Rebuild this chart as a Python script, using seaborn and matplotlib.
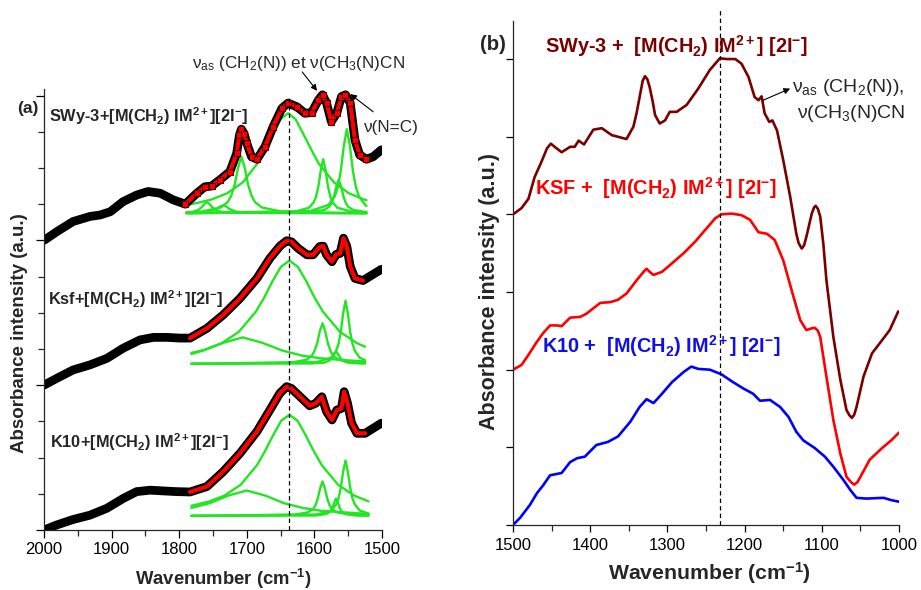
import numpy as np
import pandas as pd
import matplotlib
matplotlib.use("Agg")
import matplotlib.pyplot as plt
import seaborn as sns
from matplotlib.ticker import MultipleLocator

# ---------------- Panel (a) : 2000-1500 cm-1, experimental spectra ----------------
A_SWY_W = [2000,1981,1957,1932,1917,1902,1883,1863,1846,1828,1809,1791,1774,1762,1752,1740,1725,1715,1711,1708,1704,1700,
           1693,1685,1673,1661,1648,1639,1626,1614,1604,1594,1588,1582,1575,1567,1560,1554,1547,1540,1533,1523,1513,1501]
A_SWY_V = [8.00,8.24,8.52,8.66,8.70,8.79,9.07,9.25,9.35,9.30,9.12,9.00,9.30,9.48,9.50,9.67,9.90,10.40,10.90,11.07,10.95,10.68,
           10.31,10.24,10.59,11.14,11.65,11.79,11.69,11.51,11.53,11.88,12.02,11.79,11.28,11.51,11.97,12.02,11.79,10.77,10.36,10.24,10.31,10.50]
A_KSF_W = [2000,1981,1957,1932,1907,1883,1858,1838,1818,1799,1784,1759,1735,1710,1685,1666,1651,1641,1634,1624,
           1611,1602,1592,1587,1582,1574,1568,1562,1557,1552,1547,1540,1528,1515,1501]
A_KSF_V = [4.00,4.19,4.42,4.56,4.74,5.02,5.25,5.32,5.32,5.30,5.30,5.57,5.94,6.40,6.95,7.50,7.84,7.99,7.96,7.78,
           7.60,7.60,7.83,7.84,7.60,7.41,7.61,7.64,8.06,7.83,7.28,6.95,6.89,7.04,7.20]
A_K10_W = [2000,1981,1957,1932,1907,1883,1863,1843,1824,1804,1784,1759,1735,1710,1685,1666,1651,1641,1634,1621,
           1607,1598,1589,1582,1574,1567,1560,1556,1551,1545,1537,1525,1513,1501]
A_K10_V = [0.00,0.14,0.29,0.41,0.60,0.87,1.06,1.10,1.08,1.06,1.05,1.20,1.61,2.12,2.72,3.31,3.78,3.96,3.91,3.68,
           3.43,3.50,3.68,3.27,3.04,3.31,3.36,3.82,3.50,2.95,2.67,2.67,2.81,2.95]
FIT_RANGE = {"SWy": (1523, 1791), "Ksf": (1525, 1784), "K10": (1520, 1784)}

# ---------------- Panel (a) : fitted components (green) ----------------
SWY_C1_W = [1789,1783,1775,1771,1767,1763,1759,1755,1751,1747,1743,1735,1711,1523]
SWY_C1_V = [8.77,8.78,8.81,8.85,8.91,9.00,9.06,9.00,8.91,8.85,8.81,8.78,8.76,8.75]
SWY_C2_W = [1789,1765,1755,1750,1745,1740,1735,1730,1725,1720,1715,1705,1675,1523]
SWY_C2_V = [8.76,8.77,8.79,8.82,8.86,8.93,8.97,8.93,8.86,8.82,8.79,8.77,8.76,8.75]
SWY_C3_W = [1789,1768,1738,1728,1723,1718,1713,1708,1703,1698,1693,1688,1678,1648,1608,1523]
SWY_C3_V = [8.77,8.79,8.91,9.06,9.23,9.53,10.00,10.31,10.00,9.53,9.23,9.06,8.91,8.79,8.77,8.75]
SWY_C4_W = [1789,1774,1752,1729,1706,1684,1673,1661,1650,1639,1628,1617,1605,1594,1571,1549,1527,1523]
SWY_C4_V = [8.98,9.03,9.13,9.30,9.60,10.13,10.52,10.96,11.35,11.51,11.35,10.96,10.52,10.13,9.60,9.30,9.13,9.11]
SWY_C5_W = [1789,1629,1608,1601,1597.5,1594,1590.5,1587,1583.5,1580,1576.5,1573,1566,1545,1523]
SWY_C5_V = [8.75,8.79,8.90,9.05,9.21,9.50,9.94,10.24,9.94,9.50,9.21,9.05,8.90,8.79,8.77]
SWY_C6_W = [1789,1606,1585,1578,1574.5,1571,1567.5,1564,1560.5,1557,1553.5,1550,1543,1523]
SWY_C6_V = [8.75,8.78,8.84,8.93,9.03,9.21,9.49,9.67,9.49,9.21,9.03,8.93,8.84,8.78]
SWY_C7_W = [1789,1606,1579,1570,1565.5,1561,1556.5,1552,1547.5,1543,1538.5,1534,1525,1523]
SWY_C7_V = [8.75,8.81,8.98,9.21,9.46,9.91,10.61,11.07,10.61,9.91,9.46,9.21,8.98,8.95]

KSF_C1_W = [1782,1762,1737,1712,1687,1674.5,1662,1649.5,1637,1624.5,1612,1599.5,1587,1562,1537,1525]
KSF_C1_V = [4.89,4.98,5.16,5.47,6.02,6.41,6.87,7.27,7.44,7.27,6.87,6.41,6.02,5.47,5.16,5.06]
KSF_C2_W = [1782,1764,1735,1706,1677,1648,1619,1590,1532,1525]
KSF_C2_V = [4.86,4.96,5.17,5.32,5.17,4.96,4.82,4.74,4.66,4.66]
KSF_C3_W = [1782,1636,1612,1604,1600,1596,1592,1588,1584,1580,1576,1572,1564,1540,1525]
KSF_C3_V = [4.59,4.62,4.70,4.81,4.94,5.15,5.49,5.71,5.49,5.15,4.94,4.81,4.70,4.62,4.61]
KSF_C4_W = [1782,1604,1586,1580,1577,1574,1571,1568,1565,1562,1559,1556,1550,1532,1525]
KSF_C4_V = [4.59,4.60,4.62,4.66,4.69,4.76,4.86,4.93,4.86,4.76,4.69,4.66,4.62,4.60,4.60]
KSF_C5_W = [1782,1596,1575,1568,1564.5,1561,1557.5,1554,1550.5,1547,1543.5,1540,1533,1525]
KSF_C5_V = [4.59,4.64,4.76,4.94,5.13,5.46,5.98,6.33,5.98,5.46,5.13,4.94,4.76,4.69]

K10_C1_W = [1782,1757,1733,1709,1685,1673,1661,1649,1637,1625,1613,1601,1589,1565,1541,1520]
K10_C1_V = [0.67,0.78,0.95,1.25,1.79,2.18,2.62,3.02,3.18,3.02,2.62,2.18,1.79,1.25,0.95,0.79]
K10_C2_W = [1782,1755,1727.5,1700,1672.5,1645,1617.5,1590,1535,1520]
K10_C2_V = [0.61,0.74,0.95,1.09,0.95,0.74,0.61,0.53,0.46,0.45]
K10_C3_W = [1782,1630,1609,1602,1598.5,1595,1591.5,1588,1584.5,1581,1577.5,1574,1567,1546,1520]
K10_C3_V = [0.39,0.42,0.49,0.58,0.68,0.87,1.15,1.34,1.15,0.87,0.68,0.58,0.49,0.42,0.40]
K10_C4_W = [1782,1598,1583,1578,1575.5,1573,1570.5,1568,1565.5,1563,1560.5,1558,1553,1538,1520]
K10_C4_V = [0.39,0.40,0.44,0.49,0.54,0.63,0.77,0.87,0.77,0.63,0.54,0.49,0.44,0.40,0.40]
K10_C5_W = [1782,1596,1575,1568,1564.5,1561,1557.5,1554,1550.5,1547,1543.5,1540,1533,1520]
K10_C5_V = [0.39,0.43,0.54,0.70,0.86,1.16,1.61,1.92,1.61,1.16,0.86,0.70,0.54,0.45]

# ---------------- Panel (b) : 1500-1000 cm-1 ----------------
B_SWY_W = [1500,1489,1480,1472,1463,1456,1451,1446,1437,1426,1420,1415,1408,1396,1385,1372,1353,1344,1340,1336,1332,1329,
           1326,1323,1319,1316,1310,1303,1297,1288,1275,1260,1245,1232,1223,1212,1204,1195,1187,1182,1178,1174,1168,1164,
           1158,1150,1141,1133,1130,1126,1123,1120,1113,1110,1108,1105,1102,1098,1094,1085,1076,1068,1064,1061,1058,1055,
           1046,1035,1025,1012,1001]
B_SWY_V = [4.00,4.08,4.20,4.48,4.68,4.85,4.91,4.87,4.80,4.87,4.87,4.95,4.90,5.09,5.11,5.02,4.97,5.13,5.30,5.51,5.72,5.78,
           5.74,5.64,5.45,5.28,5.17,5.21,5.32,5.32,5.41,5.62,5.86,6.01,6.00,6.00,5.94,5.77,5.51,5.47,5.52,5.30,5.19,5.21,
           5.08,4.70,4.23,3.75,3.63,3.56,3.60,3.71,4.01,4.09,4.11,4.07,3.97,3.62,3.15,2.42,1.87,1.48,1.41,1.38,1.42,1.52,
           1.91,2.21,2.34,2.51,2.75]
B_KSF_W = [1500,1489,1480,1469,1461,1452,1443,1437,1426,1413,1405,1387,1374,1364,1353,1340,1330,1327,1323,1318,1307,1294,
           1279,1264,1251,1238,1230,1217,1204,1193,1182,1171,1161,1150,1139,1128,1120,1114,1109,1105,1102,1094,1085,1076,
           1068,1062,1058,1054,1050,1038,1022,1010,1000]
B_KSF_V = [2.00,2.06,2.19,2.36,2.47,2.57,2.57,2.56,2.67,2.68,2.72,2.86,2.87,2.90,2.98,3.15,3.27,3.30,3.26,3.22,3.26,3.37,
           3.50,3.65,3.80,3.95,4.00,4.01,3.99,3.93,3.77,3.75,3.67,3.41,3.02,2.64,2.51,2.53,2.54,2.50,2.42,1.91,1.35,0.92,
           0.62,0.55,0.52,0.55,0.62,0.84,0.99,1.09,1.19]
B_K10_W = [1500,1491,1478,1469,1461,1452,1437,1426,1417,1407,1392,1377,1364,1348,1336,1327,1318,1307,1294,1279,
           1269,1260,1245,1230,1215,1202,1189,1180,1167,1154,1143,1133,1124,1109,1096,1085,1072,1063,1055,1042,
           1020,1010,1000]
B_K10_V = [0.00,0.09,0.26,0.41,0.51,0.64,0.67,0.81,0.86,0.88,1.03,1.07,1.14,1.33,1.52,1.62,1.57,1.69,1.84,1.97,
           2.04,2.01,2.00,1.94,1.84,1.76,1.69,1.60,1.61,1.52,1.39,1.20,1.09,0.99,0.88,0.75,0.58,0.45,0.35,0.34,
           0.35,0.32,0.30]

A_REF_WN = 1637   # dashed reference in (a)
B_REF_WN = 1232   # dashed reference in (b)

LABEL_A = ["SWy-3+[M(CH$_\\mathbf{2}$) IM$^\\mathbf{2+}$][2I$^\\mathbf{-}$]",
           "Ksf+[M(CH$_\\mathbf{2}$) IM$^\\mathbf{2+}$][2I$^\\mathbf{-}$]",
           "K10+[M(CH$_\\mathbf{2}$) IM$^\\mathbf{2+}$][2I$^\\mathbf{-}$]"]
LABEL_B = ["SWy-3 +  [M(CH$_\\mathbf{2}$) IM$^\\mathbf{2+}$] [2I$^\\mathbf{-}$]",
           "KSF +  [M(CH$_\\mathbf{2}$) IM$^\\mathbf{2+}$] [2I$^\\mathbf{-}$]",
           "K10 +  [M(CH$_\\mathbf{2}$) IM$^\\mathbf{2+}$] [2I$^\\mathbf{-}$]"]

# ---------------- style ----------------
sns.set_style("ticks")
plt.rcParams["font.family"] = ["Liberation Sans", "DejaVu Sans"]
plt.rcParams["mathtext.fontset"] = "custom"
plt.rcParams["mathtext.rm"] = "Liberation Sans"
plt.rcParams["mathtext.it"] = "Liberation Sans:italic"
plt.rcParams["mathtext.bf"] = "Liberation Sans:bold"

W, H = 921, 590
fig = plt.figure(figsize=(W / 100, H / 100), dpi=100)

def px_axes(l, t, r, b):
    return fig.add_axes([l / W, 1 - b / H, (r - l) / W, (b - t) / H])

def ftext(x, y, s, **kw):
    fig.text(x / W, 1 - y / H, s, **kw)

axA = px_axes(44, 89, 382, 530)
axB = px_axes(513, 21, 899, 525)

GREEN = "#22e622"

def spectrum(ax, w, v, rng, red_markers=False):
    df = pd.DataFrame({"w": w, "v": v})
    sns.lineplot(data=df, x="w", y="v", ax=ax, color="black", linewidth=6.3,
                 estimator=None, sort=False, solid_capstyle="round", solid_joinstyle="round")
    sub = df[(df.w >= rng[0]) & (df.w <= rng[1])]
    kw = dict(marker="s", markersize=3.8, markerfacecolor="red", markeredgecolor="#550000",
              markeredgewidth=0.8) if red_markers else {}
    sns.lineplot(data=sub, x="w", y="v", ax=ax, color="red", linewidth=3.0,
                 estimator=None, sort=False, solid_capstyle="round", solid_joinstyle="round", **kw)

def comps(ax, pairs):
    for w, v in pairs:
        sns.lineplot(x=w, y=v, ax=ax, color=GREEN, linewidth=1.7, estimator=None, sort=False)

comps(axA, [(SWY_C1_W, SWY_C1_V), (SWY_C2_W, SWY_C2_V), (SWY_C3_W, SWY_C3_V), (SWY_C4_W, SWY_C4_V),
            (SWY_C5_W, SWY_C5_V), (SWY_C6_W, SWY_C6_V), (SWY_C7_W, SWY_C7_V)])
comps(axA, [(KSF_C1_W, KSF_C1_V), (KSF_C2_W, KSF_C2_V), (KSF_C3_W, KSF_C3_V), (KSF_C4_W, KSF_C4_V),
            (KSF_C5_W, KSF_C5_V)])
comps(axA, [(K10_C1_W, K10_C1_V), (K10_C2_W, K10_C2_V), (K10_C3_W, K10_C3_V), (K10_C4_W, K10_C4_V),
            (K10_C5_W, K10_C5_V)])
spectrum(axA, A_SWY_W, A_SWY_V, FIT_RANGE["SWy"], red_markers=True)
spectrum(axA, A_KSF_W, A_KSF_V, FIT_RANGE["Ksf"])
spectrum(axA, A_K10_W, A_K10_V, FIT_RANGE["K10"])

axA.set_xlim(2000, 1500)
axA.set_ylim(0, 12.18)
axA.axvline(A_REF_WN, ymin=0, ymax=12.0 / 12.18, color="black", lw=0.9, ls=(0, (3.5, 2.5)), zorder=5)

sns.lineplot(x=B_SWY_W, y=B_SWY_V, ax=axB, color="#7a0000", linewidth=1.9, estimator=None, sort=False)
sns.lineplot(x=B_KSF_W, y=B_KSF_V, ax=axB, color="#ff0000", linewidth=1.9, estimator=None, sort=False)
sns.lineplot(x=B_K10_W, y=B_K10_V, ax=axB, color="#0000ff", linewidth=1.9, estimator=None, sort=False)
axB.set_xlim(1500, 1000)
axB.set_ylim(0, 6.49)
axB.axvline(B_REF_WN, ymin=0, ymax=515 / 504, color="black", lw=0.9, ls=(0, (3.5, 2.5)),
            zorder=5, clip_on=False)

for ax in (axA, axB):
    sns.despine(ax=ax)
    ax.set_xlabel("")
    ax.set_ylabel("")
    ax.spines["left"].set_linewidth(0.9)
    ax.spines["bottom"].set_linewidth(0.9)
    ax.xaxis.set_major_locator(MultipleLocator(100))
    ax.xaxis.set_minor_locator(MultipleLocator(50))
    ax.set_yticklabels([])

axA.yaxis.set_major_locator(MultipleLocator(4))
axA.yaxis.set_minor_locator(MultipleLocator(1))
axA.tick_params(axis="both", which="major", direction="out", length=6, width=0.9, labelsize=12, pad=2.5, colors="black")
axA.tick_params(axis="both", which="minor", direction="out", length=4, width=0.9)
axA.tick_params(axis="y", labelleft=False)
axB.yaxis.set_major_locator(MultipleLocator(1))
axB.tick_params(axis="both", which="major", direction="out", length=5, width=0.9, labelsize=12, pad=4.5, colors="black")
axB.tick_params(axis="both", which="minor", direction="out", length=4, width=0.9)
axB.tick_params(axis="y", labelleft=False)

# axis titles
ftext(20, 333, "Absorbance intensity (a.u.)", rotation=90, ha="center", va="center",
      fontsize=13.5, fontweight="bold")
ftext(489, 292, "Absorbance intensity (a.u.)", rotation=90, ha="center", va="center",
      fontsize=15.5, fontweight="bold")
ftext(223, 585, "Wavenumber (cm$^\\mathbf{-1}$)", ha="center", va="baseline", fontsize=13.3, fontweight="bold")
ftext(709, 580, "Wavenumber (cm$^\\mathbf{-1}$)", ha="center", va="baseline", fontsize=15.3, fontweight="bold")

# panel letters and sample labels
ftext(17, 113, "(a)", fontsize=12.5, fontweight="bold", va="baseline")
ftext(480, 50, "(b)", fontsize=14.7, fontweight="bold", va="baseline")
for s, (x, y) in zip(LABEL_A, [(49, 122), (48, 305), (50, 448)]):
    ftext(x, y, s, fontsize=11.8, fontweight="bold", va="baseline")
for s, (x, y), c in zip(LABEL_B, [(545, 53), (535, 195), (542, 353)], ["#7a0000", "#ff0000", "#1010e6"]):
    ftext(x, y, s, fontsize=14.3, fontweight="bold", va="baseline", color=c)

# annotations
ftext(192, 68, "ν$_\\mathrm{as}$ (CH$_\\mathrm{2}$(N)) et ν(CH$_\\mathrm{3}$(N)CN", fontsize=12.3, va="baseline")
ftext(363, 132, "ν(N=C)", fontsize=12.3, va="baseline")
ftext(792, 92, "ν$_\\mathrm{as}$ (CH$_\\mathrm{2}$(N)),", fontsize=14, va="baseline")
ftext(797, 118, "ν(CH$_\\mathrm{3}$(N)CN", fontsize=14, va="baseline")

arrow = dict(arrowstyle="-|>", color="black", lw=0.8, mutation_scale=9, shrinkA=0, shrinkB=0)
axA.annotate("", xy=(1596, 12.13), xytext=(1618, 12.65), arrowprops=arrow, annotation_clip=False)
axA.annotate("", xy=(1547, 12.04), xytext=(1513, 11.55), arrowprops=arrow, annotation_clip=False)
axB.annotate("", xy=(1141, 5.62), xytext=(1176, 5.47), arrowprops=arrow, annotation_clip=False)

fig.savefig("out.png", dpi=100)
